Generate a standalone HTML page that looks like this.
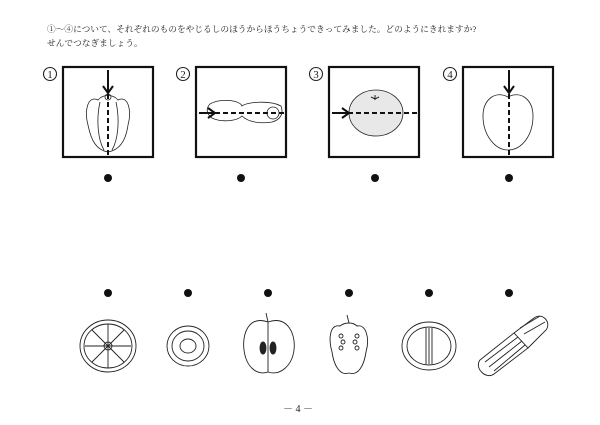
<!DOCTYPE html>
<html><head><meta charset="utf-8"><style>
html,body{margin:0;padding:0;background:#fff;width:600px;height:425px;overflow:hidden}
svg{display:block}
text{font-family:"Liberation Serif","Noto Serif CJK SC","Noto Sans CJK JP",serif;fill:#222}
</style></head><body>
<svg width="600" height="425" viewBox="0 0 600 425" xmlns="http://www.w3.org/2000/svg">
<text x="47" y="32" font-size="8.7">①～④について、それぞれのものをやじるしのほうからほうちょうできってみました。どのようにきれますか?</text>
<text x="47" y="46" font-size="8.7">せんでつなぎましょう。</text>
<g fill="none" stroke="#222" stroke-width="1.1">
<circle cx="50" cy="74" r="6.5"/><circle cx="183" cy="74" r="6.5"/><circle cx="316" cy="74" r="6.5"/><circle cx="450" cy="74" r="6.5"/>
</g>
<g font-size="11" font-family="Liberation Sans,DejaVu Sans,sans-serif" text-anchor="middle">
<text x="50" y="78">1</text><text x="183" y="78">2</text><text x="316" y="78">3</text><text x="450" y="78">4</text>
</g>
<g fill="none" stroke="#111" stroke-width="2.2">
<rect x="63" y="67" width="90" height="90"/>
<rect x="196" y="67" width="90" height="90"/>
<rect x="329" y="67" width="90" height="90"/>
<rect x="463" y="67" width="90" height="90"/>
</g>
<g fill="none" stroke="#222" stroke-width="0.8">
<path d="M98 100 C88 95 84 110 88 125 C91 140 96 150 108 152 C120 150 126 140 128 125 C132 110 128 95 118 100 C113 94 103 94 98 100Z"/>
<path d="M100 102 C96 120 98 140 104 150 M116 102 C120 120 118 140 112 150"/>
<circle cx="108" cy="97" r="3"/>
</g>
<line x1="108" y1="70" x2="108" y2="158" stroke="#111" stroke-width="2" stroke-dasharray="5,3"/>
<path d="M108 70 V92 M103 86 L108 93 L113 86" stroke="#111" stroke-width="2" fill="none"/>
<g fill="none" stroke="#222" stroke-width="0.8">
<path d="M210 104 C220 98 240 100 242 106 C246 102 270 100 281 106 C284 114 280 120 272 122 C260 124 248 122 242 116 C236 122 220 122 212 118 C206 114 206 108 210 104Z"/>
<circle cx="273" cy="113" r="6"/>
</g>
<line x1="199" y1="113" x2="285" y2="113" stroke="#111" stroke-width="2" stroke-dasharray="5,3"/>
<path d="M199 113 H214 M208 108 L215 113 L208 118" stroke="#111" stroke-width="2" fill="none"/>
<ellipse cx="376" cy="113" rx="27" ry="23" fill="#e8e8e8" stroke="#222" stroke-width="0.8"/>
<path d="M371 97 l4 2 l4 -2 M375 95 v5" stroke="#222" stroke-width="1" fill="none"/>
<line x1="332" y1="113" x2="418" y2="113" stroke="#111" stroke-width="2" stroke-dasharray="5,3"/>
<path d="M332 113 H348 M342 108 L349 113 L342 118" stroke="#111" stroke-width="2" fill="none"/>
<path d="M508 97 C495 90 483 100 483 116 C483 135 495 150 508 150 C522 150 533 135 533 116 C533 100 521 90 508 97Z" fill="none" stroke="#222" stroke-width="0.8"/>
<line x1="509" y1="70" x2="509" y2="158" stroke="#111" stroke-width="2" stroke-dasharray="5,3"/>
<path d="M509 70 V92 M504 86 L509 93 L514 86" stroke="#111" stroke-width="2" fill="none"/>
<g fill="#111">
<circle cx="108" cy="178" r="4"/><circle cx="241" cy="178" r="4"/><circle cx="375" cy="178" r="4"/><circle cx="509" cy="178" r="4"/>
<circle cx="108" cy="293" r="4"/><circle cx="188" cy="293" r="4"/><circle cx="268" cy="293" r="4"/><circle cx="349" cy="293" r="4"/><circle cx="429" cy="293" r="4"/><circle cx="509" cy="293" r="4"/>
</g>
<g fill="none" stroke="#222" stroke-width="0.9">
<ellipse cx="108" cy="346" rx="28" ry="26"/><ellipse cx="108" cy="346" rx="24" ry="22"/>
<path d="M108 346 L108 324 M108 346 L124 330 M108 346 L131 346 M108 346 L124 362 M108 346 L108 368 M108 346 L92 362 M108 346 L85 346 M108 346 L92 330"/>
<circle cx="108" cy="346" r="4"/>
<ellipse cx="188" cy="346" rx="21" ry="20"/><ellipse cx="188" cy="346" rx="16" ry="15"/>
<ellipse cx="188" cy="346" rx="8" ry="7"/>
<path d="M268 322 C248 315 242 335 244 350 C246 366 256 376 268 372 C280 376 292 366 294 350 C296 335 288 315 268 322Z"/>
<path d="M268 322 V372 M268 322 L266 313"/>
<ellipse cx="263" cy="348" rx="3" ry="6" fill="#222"/><ellipse cx="273" cy="348" rx="3" ry="6" fill="#222"/>
<path d="M340 326 C330 324 328 338 332 352 C334 366 340 376 349 373 C358 376 364 366 366 352 C370 338 366 324 357 326 C353 322 345 322 340 326Z"/>
<path d="M349 323 L347 315"/>
<circle cx="341" cy="336" r="2"/><circle cx="343" cy="342" r="2"/><circle cx="341" cy="348" r="2"/><circle cx="357" cy="336" r="2"/><circle cx="355" cy="342" r="2"/><circle cx="357" cy="348" r="2"/>
<ellipse cx="429" cy="346" rx="27" ry="24"/><ellipse cx="429" cy="346" rx="22" ry="19"/>
<path d="M426 328 V364 M429 328 V364 M432 328 V364"/>
<path d="M480 360 L514 333 L528 348 L494 374 C486 380 474 368 480 360Z"/>
<path d="M514 333 L534 318 C542 312 552 322 546 330 L528 348"/>
<path d="M485 362 L518 337 M489 367 L522 341 M494 371 L525 345 M520 328 L540 316 M524 334 L545 322"/>
</g>
<text x="283" y="412" font-size="10">－ 4 －</text>
</svg>
</body></html>
